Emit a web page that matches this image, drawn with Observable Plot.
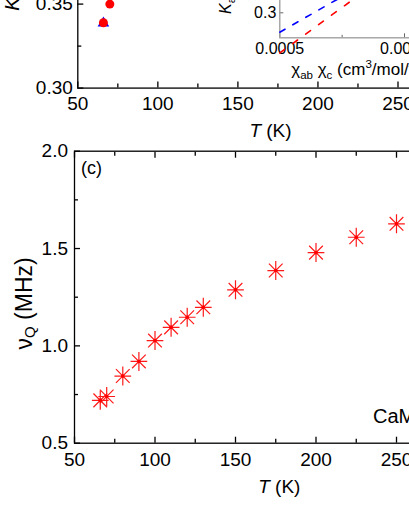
<!DOCTYPE html>
<html><head><meta charset="utf-8">
<script src="https://cdn.jsdelivr.net/npm/d3@7"></script>
<script src="https://cdn.jsdelivr.net/npm/@observablehq/plot@0.6"></script>
<style>
html,body{margin:0;padding:0;background:#fff;overflow:hidden;}
#wrap{position:relative;width:409px;height:529px;overflow:hidden;background:#fff;}
#wrap svg{position:absolute;max-width:none;}
</style></head><body><div id="wrap"></div>
<script>
// ---------- data ----------
// Panel (c): nu_Q vs T
const cT = [66, 70, 80, 90, 100, 110, 120, 130, 150, 175, 200, 225, 250];
const cNuQ = [0.72, 0.74, 0.845, 0.92, 1.027, 1.095, 1.147, 1.198, 1.288, 1.387, 1.479, 1.558, 1.627];
const tMajor = [50, 100, 150, 200, 250, 300];
const tMinor = [75, 125, 175, 225, 275];
const nuMajor = [0.5, 1.0, 1.5, 2.0];
const nuMinor = [0.75, 1.25, 1.75];

// Panel (b): K vs T (visible part)
const bT_c = [66, 70];
const bK_c = [0.3389, 0.3500];
const bT_ab = [66];
const bK_ab = [0.3387];
const kMajor = [0.30, 0.35, 0.40];
const kMinor = [0.325, 0.375];

// Inset: K vs chi (linear fits, dashed)
const iChi = [0.0005, 0.0008];
const iK_ab = [0.2767, 0.3281];
const iK_c = [0.2518, 0.3174];
const chiMajor = [0.0005, 0.0010, 0.0015];
const chiMinor = [0.00075, 0.00125];
const ikMajor = [0.3, 0.4];
const ikMinor = [0.35];

// ---------- helpers ----------
const font = "'Liberation Sans', Arial, Helvetica, sans-serif";
const baseStyle = {background: "transparent", overflow: "visible", maxWidth: "none", fontFamily: font, color: "black"};
const SVGNS = "http://www.w3.org/2000/svg";

function inwardTicks(xs, ys, size, stroke, sw) {
  const o = {tickSize: size, fill: "none", stroke, strokeWidth: sw, label: null};
  return [
    Plot.axisX({...o, ticks: xs, anchor: "bottom", dy: -size}),
    Plot.axisX({...o, ticks: xs, anchor: "top", dy: size}),
    Plot.axisY({...o, ticks: ys, anchor: "left", dx: size}),
    Plot.axisY({...o, ticks: ys, anchor: "right", dx: -size})
  ];
}

const asterisk8 = {
  draw(ctx, size) {
    const r = Math.sqrt(size / Math.PI);
    const d = r * 0.72;
    const h = r * 0.88;
    ctx.moveTo(0, -r); ctx.lineTo(0, r);
    ctx.moveTo(-h, 0); ctx.lineTo(h, 0);
    ctx.moveTo(-d, -d); ctx.lineTo(d, d);
    ctx.moveTo(-d, d); ctx.lineTo(d, -d);
  }
};

// replace a placeholder text with styled tspans (segments: {t, dy (absolute shift), fs, it})
function richText(svg, placeholder, segs) {
  svg.querySelectorAll("text").forEach(el => {
    if (el.textContent !== placeholder) return;
    while (el.firstChild) el.removeChild(el.firstChild);
    let prev = 0;
    segs.forEach(s => {
      const ts = document.createElementNS(SVGNS, "tspan");
      const dy = s.dy || 0;
      if (dy !== prev) ts.setAttribute("dy", dy - prev);
      prev = dy;
      if (s.fs) ts.setAttribute("font-size", s.fs);
      if (s.it) ts.setAttribute("font-style", "italic");
      ts.textContent = s.t;
      el.appendChild(ts);
    });
  });
}
function place(svg, left, top) {
  svg.style.left = left + "px";
  svg.style.top = top + "px";
  document.getElementById("wrap").appendChild(svg);
}

// ---------- panel (c) ----------
const cData = cT.map((t, i) => ({t, v: cNuQ[i]}));
const Wc = 500;
const pc = Plot.plot({
  width: Wc, height: 529,
  marginLeft: 74, marginRight: Wc - 476.5, marginTop: 150.7, marginBottom: 529 - 442.7,
  x: {domain: [50, 300], axis: null},
  y: {domain: [0.5, 2.0], axis: null},
  style: baseStyle,
  marks: [
    ...inwardTicks(tMajor, nuMajor, 6, "black", 1.3),
    ...inwardTicks(tMinor, nuMinor, 4, "black", 1.3),
    Plot.frame({stroke: "black", strokeWidth: 1.3}),
    Plot.axisX({ticks: tMajor, tickSize: 0, tickPadding: 9, fontSize: 19, label: null}),
    Plot.axisY({ticks: nuMajor, tickSize: 0, tickPadding: 6.5, fontSize: 19, label: null, tickFormat: ".1f"}),
    Plot.dot(cData, {x: "t", y: "v", symbol: asterisk8, r: 9.5, stroke: "#ff1a1a", strokeWidth: 1.2, fill: "none"}),
    Plot.dot(cData, {x: "t", y: "v", r: 1.8, fill: "#ff0000", stroke: "none"}),
    Plot.text(["(c)"], {frameAnchor: "top-left", dx: 6.5, dy: 22.3, textAnchor: "start", lineAnchor: "bottom", fontSize: 18}),
    Plot.text(["CaMn₂Bi₂"], {frameAnchor: "bottom-left", dx: 298.5, dy: -20, textAnchor: "start", lineAnchor: "bottom", fontSize: 20}),
    Plot.text(["@xlab"], {frameAnchor: "bottom-left", dx: 204.8, dy: 49.8, textAnchor: "middle", lineAnchor: "bottom", fontSize: 19}),
    Plot.text(["@ylabc"], {frameAnchor: "bottom-left", dx: -42.3, dy: -93.7, rotate: -90, textAnchor: "start", lineAnchor: "bottom", fontSize: 23})
  ]
});
richText(pc, "@xlab", [{t: "T", it: true}, {t: " (K)"}]);
richText(pc, "@ylabc", [{t: "ν"}, {t: "Q", dy: 3, fs: 15}, {t: " (MHz)"}]);
place(pc, 0, 0);

// ---------- panel (b) ----------
const Wb = 500;
const pb = Plot.plot({
  width: Wb, height: 281.6,
  marginLeft: 77.3, marginRight: Wb - 477.55, marginTop: 20, marginBottom: 60,
  x: {domain: [50, 300], axis: null},
  y: {domain: [0.30, 0.42], axis: null},
  style: baseStyle,
  marks: [
    ...inwardTicks(tMajor, kMajor, 6, "black", 1.3),
    ...inwardTicks(tMinor, kMinor, 4, "black", 1.3),
    Plot.frame({stroke: "black", strokeWidth: 1.3}),
    Plot.axisX({ticks: tMajor, tickSize: 0, tickPadding: 8, fontSize: 19, label: null}),
    Plot.axisY({ticks: kMajor, tickSize: 0, tickPadding: 5, fontSize: 19, label: null, tickFormat: ".2f"}),
    Plot.dot(bT_ab.map((t, i) => ({t, k: bK_ab[i]})), {x: "t", y: "k", symbol: "triangle", r: 4.3, fill: "#0000ff", stroke: "none"}),
    Plot.dot(bT_c.map((t, i) => ({t, k: bK_c[i]})), {x: "t", y: "k", r: 4.5, fill: "#ff0000", stroke: "none"}),
    Plot.text(["@xlab"], {frameAnchor: "bottom-left", dx: 192.7, dy: 49.2, textAnchor: "middle", lineAnchor: "bottom", fontSize: 19}),
    Plot.text(["@ylabb"], {frameAnchor: "bottom-left", dx: -58.8, dy: -77.3, rotate: -90, textAnchor: "start", lineAnchor: "bottom", fontSize: 20})
  ]
});
richText(pb, "@xlab", [{t: "T", it: true}, {t: " (K)"}]);
richText(pb, "@ylabb", [{t: "K", it: true}, {t: " (%)"}]);
place(pb, 0, -134.3);

// ---------- inset ----------
const Wi = 350;
const pi = Plot.plot({
  width: Wi, height: 190,
  marginLeft: 79.3, marginRight: Wi - 328.7, marginTop: 29, marginBottom: 52.7,
  x: {domain: [0.0005, 0.0015], axis: null},
  y: {domain: [0.27, 0.40], axis: null},
  style: baseStyle,
  marks: [
    Plot.frame({fill: "white", stroke: "none"}),
    ...inwardTicks(chiMajor, ikMajor, 4, "#666", 1),
    ...inwardTicks(chiMinor, ikMinor, 2.5, "#666", 1),
    Plot.frame({stroke: "#9a9a9a", strokeWidth: 1.3}),
    Plot.axisX({ticks: chiMajor, tickSize: 0, tickPadding: 4.4, fontSize: 16, label: null, tickFormat: ".4f"}),
    Plot.axisY({ticks: ikMajor, tickSize: 0, tickPadding: 3.5, fontSize: 16, label: null, tickFormat: ".1f"}),
    Plot.line(iChi.map((c, i) => ({c, k: iK_ab[i]})), {x: "c", y: "k", stroke: "#0000ff", strokeWidth: 1.6, strokeDasharray: "6,9"}),
    Plot.line(iChi.map((c, i) => ({c, k: iK_c[i]})), {x: "c", y: "k", stroke: "#ff0000", strokeWidth: 1.6, strokeDasharray: "6,10"}),
    Plot.text(["@xlabi"], {frameAnchor: "bottom-left", dx: 11.4, dy: 36.7, textAnchor: "start", lineAnchor: "bottom", fontSize: 17}),
    Plot.text(["@ylabi"], {frameAnchor: "bottom-left", dx: -48.6, dy: -23.8, rotate: -90, textAnchor: "start", lineAnchor: "bottom", fontSize: 16})
  ]
});
richText(pi, "@xlabi", [{t: "χ"}, {t: "ab", dy: 4, fs: 11.5}, {t: " χ"}, {t: "c", dy: 4, fs: 11.5}, {t: " (cm"}, {t: "3", dy: -6.5, fs: 11.5}, {t: "/mol/f.u.)"}]);
richText(pi, "@ylabi", [{t: "K", it: true}, {t: "ab", dy: 4, fs: 11}, {t: " "}, {t: "K", it: true}, {t: "c", dy: 4, fs: 11}, {t: " (%)"}]);
place(pi, 200, -100);
</script></body></html>
